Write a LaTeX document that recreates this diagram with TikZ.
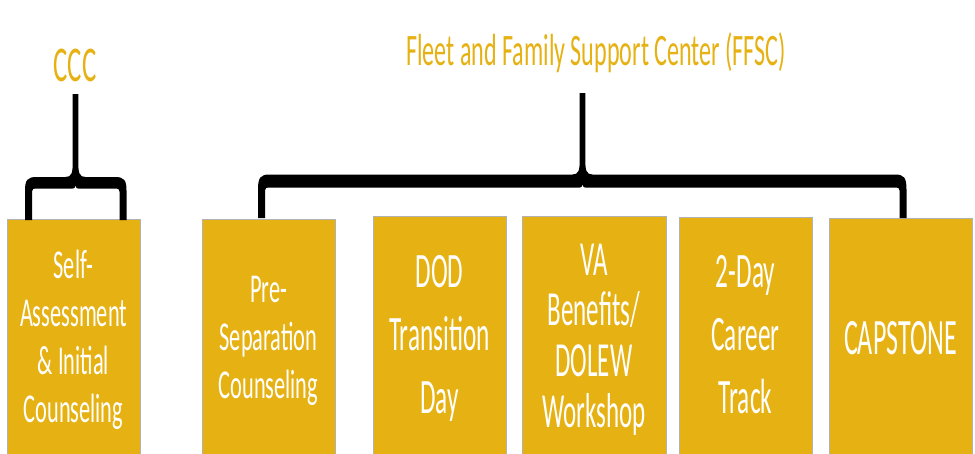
\documentclass[tikz,border=0pt]{standalone}
\usepackage{fontspec}
\newfontfamily\fsmall{Carlito}[FakeStretch=0.545]
\newfontfamily\fbig{Carlito}[FakeStretch=0.51]
\newfontfamily\fhead{Carlito}[FakeStretch=0.535]
\definecolor{gold}{RGB}{230,177,18}
% brace: xl, xm, xr, ytop, ybartop, ybarbottom, ylegbottom  (y grows downward)
\newcommand{\mybrace}[7]{%
  \fill[black]
    ({#1-3.5},{#7}) -- ({#1-3.5},{#6+2})
    .. controls ({#1-3.5},{#5+3}) and ({#1-1},{#5}) .. ({#1+8},{#5})
    -- ({#2-10},{#5})
    .. controls ({#2-4},{#5}) and ({#2-2.8},{#5-4}) .. ({#2-2.8},{#5-14})
    -- ({#2-2.8},{#4}) -- ({#2+2.8},{#4}) -- ({#2+2.8},{#5-14})
    .. controls ({#2+2.8},{#5-4}) and ({#2+4},{#5}) .. ({#2+10},{#5})
    -- ({#3-8},{#5})
    .. controls ({#3+1},{#5}) and ({#3+3.5},{#5+3}) .. ({#3+3.5},{#6+2})
    -- ({#3+3.5},{#7}) -- ({#3-3.5},{#7}) -- ({#3-3.5},{#6+3})
    .. controls ({#3-3.5},{#6}) and ({#3-5},{#6}) .. ({#3-8},{#6})
    -- ({#2+3},{#6}) .. controls ({#2+1},{#6}) .. ({#2},{#6-3})
    .. controls ({#2-1},{#6}) .. ({#2-3},{#6})
    -- ({#1+8},{#6})
    .. controls ({#1+5},{#6}) and ({#1+3.5},{#6}) .. ({#1+3.5},{#6+3})
    -- ({#1+3.5},{#7}) -- cycle;}
\begin{document}
\begin{tikzpicture}[x=1pt,y=-1pt,
  box/.style={fill=gold, draw=black!30, line width=0.7pt, text=white,
    align=center, inner sep=0pt, anchor=north},
  smalltxt/.style={font=\fsmall\fontsize{41}{48}\selectfont},
  headtxt/.style={text=gold, inner sep=0pt, anchor=base}]
\useasboundingbox (0,0) rectangle (975,453);
\clip (0,0) rectangle (975,453);
\fill[white] (0,0) rectangle (975,453);

\node[box, smalltxt, minimum width=133pt, minimum height=242.8pt] (b1) at (73.5,219)
  {\strut Self-\\Assessment\\\&~Initial\\Counseling\strut};
\node[box, smalltxt, minimum width=133pt, minimum height=242.5pt] (b2) at (268.5,219)
  {\strut Pre-\\Separation\\Counseling\strut};
\node[box, font=\fbig\fontsize{49.5}{63.3}\selectfont, minimum width=133pt, minimum height=242.7pt] (b3) at (439.5,216)
  {\strut DOD\\Transition\\Day\strut};
\node[box, font=\fbig\fontsize{49}{50.6}\selectfont, minimum width=144pt, minimum height=249.5pt] (b4) at (594,216)
  {\strut VA\\Benefits/\\DOLEW\\Workshop\strut};
\node[box, font=\fbig\fontsize{49.5}{63.3}\selectfont, minimum width=133pt, minimum height=240.7pt] (b5) at (745.5,217)
  {\strut 2-Day\\Career\\Track\strut};
\node[box, font=\fbig\fontsize{51}{61}\selectfont, minimum width=143pt, minimum height=247.6pt] (b6) at (900.5,218)
  {\strut CAPSTONE\strut};

\node[headtxt, font=\fhead\fontsize{50}{60}\selectfont] (ccc) at (75,81.7) {CCC};
\node[headtxt, font=\fhead\fontsize{45}{54}\selectfont] (ffsc) at (596,65) {Fleet and Family Support Center (FFSC)};

\mybrace{28.5}{75.5}{123}{94}{177}{188.5}{220}
\mybrace{261.5}{582.5}{903}{93}{174.5}{187.5}{218}
\end{tikzpicture}
\end{document}
